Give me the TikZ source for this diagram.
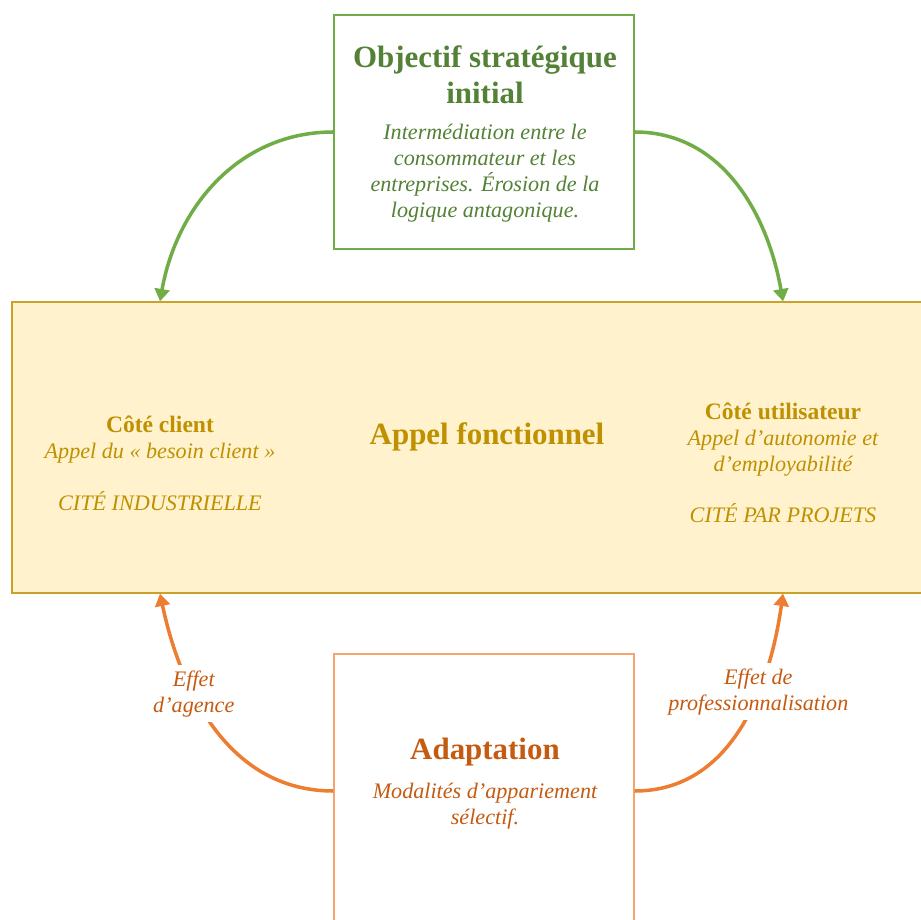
\documentclass[tikz,border=0pt]{standalone}
\usepackage{fontspec}
\setmainfont{Liberation Serif}
\usetikzlibrary{arrows.meta}
\definecolor{vertfleche}{HTML}{70AD47}
\definecolor{verttexte}{HTML}{538135}
\definecolor{orfond}{HTML}{FFF2CC}
\definecolor{ortrait}{HTML}{C9A227}
\definecolor{ortexte}{HTML}{BF9000}
\definecolor{orangefleche}{HTML}{ED7D31}
\definecolor{orangecadre}{HTML}{F4A46C}
\definecolor{orangetexte}{HTML}{C55A11}
\def\grandtitre{\fontsize{17.6}{20.4}\selectfont\bfseries}
\def\soustitre{\fontsize{13.4}{14.7}\selectfont\upshape\bfseries}
\def\texteital{\fontsize{12.6}{14.7}\selectfont\itshape}
\tikzset{
	cadre/.style={draw, line width=0.8pt, minimum width=6cm, inner sep=0pt},
	fleche/.style={line width=2pt, -{Triangle[length=7pt,width=8.5pt]}},
	etiquette/.style={fill=white, inner sep=3pt, align=center, font=\texteital, text=orangetexte}
}

\begin{document}
\begin{tikzpicture}
			%%%%% START %%%%%
			
			\clip (0, 0) rectangle (18.42, 18.38);
			
			\node[cadre, draw=vertfleche, fill=white, minimum height=4.68cm] (objectif) at (9.68, 15.74) {};
			\node[font=\grandtitre, text=verttexte, align=center] (objtitre) at (9.70, 16.88) {Objectif stratégique\\initial};
			\node[font=\texteital, text=verttexte, align=center] (objtexte) at (9.70, 14.92) {Intermédiation entre le\\consommateur et les\\entreprises. Érosion de la\\logique antagonique.};
			
			\node[draw=ortrait, fill=orfond, line width=0.8pt, minimum width=18.8cm, minimum height=5.82cm] (appel) at (9.64, 9.43) {};
			\node[font=\grandtitre, text=ortexte] (appeltitre) at (9.74, 9.64) {Appel fonctionnel};
			\node[font=\texteital, text=ortexte, align=center] (client) at (3.20, 9.11) {{\soustitre Côté client}\\Appel du « besoin client »\\[14.7pt]CITÉ INDUSTRIELLE};
			\node[font=\texteital, text=ortexte, align=center] (util) at (15.66, 9.12) {{\soustitre Côté utilisateur}\\Appel d’autonomie et\\d’employabilité\\[14.7pt]CITÉ PAR PROJETS};
			
			\node[cadre, draw=orangecadre, fill=white, minimum height=5.48cm] (adaptation) at (9.68, 2.56) {};
			\node[font=\grandtitre, text=orangetexte] (adaptitre) at (9.70, 3.34) {Adaptation};
			\node[font=\texteital, text=orangetexte, align=center] (adaptexte) at (9.70, 2.26) {Modalités d’appariement\\sélectif.};
			
			\draw[fleche, vertfleche] (objectif.west) to[out=180, in=80] (client |- appel.north);
			\draw[fleche, vertfleche] (objectif.east) to[out=0, in=100] (util |- appel.north);
			
			\draw[fleche, orangefleche] (adaptation.west) to[out=180, in=-78] node[etiquette, pos=0.65] (agence) {Effet\\d’agence} (client |- appel.south);
			\draw[fleche, orangefleche] (adaptation.east) to[out=0, in=-98] node[etiquette, pos=0.65] (profession) {Effet de\\professionnalisation} (util |- appel.south);
			
			%%%%% END %%%%%
\end{tikzpicture}
\end{document}
